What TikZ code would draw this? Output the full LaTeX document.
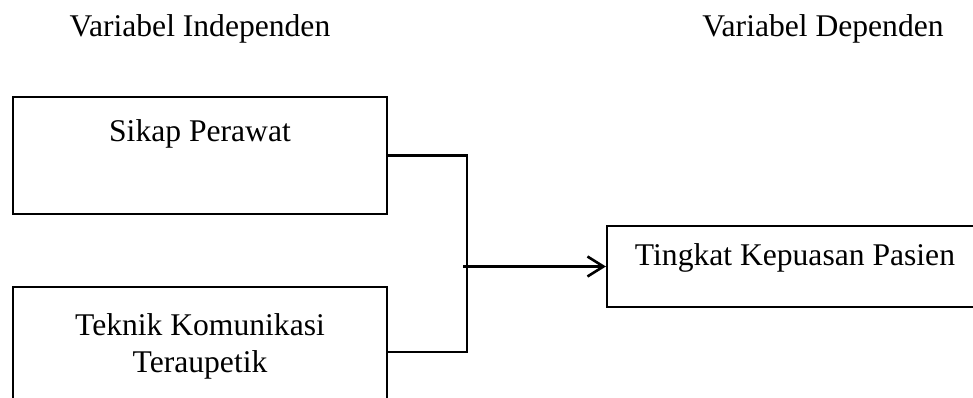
\documentclass[tikz,border=0pt]{standalone}
\usepackage{fontspec}
\setmainfont{Liberation Serif}
\usetikzlibrary{arrows.meta}
\begin{document}
\begin{tikzpicture}[x=1pt,y=-1pt,
  box/.style={draw, line width=2.2pt, rectangle, inner sep=0pt},
  lbl/.style={anchor=base, inner sep=0pt, font=\fontsize{31.6}{38}\selectfont},
  conn/.style={line width=2.2pt},
  arr/.style={line width=2.6pt, -{Straight Barb[length=16pt,width=20pt,line width=2.6pt]}}]
\useasboundingbox (0,0) rectangle (973,398);
\clip (0,0) rectangle (973,398);
\node[lbl] (hi) at (200,37) {Variabel Independen};
\node[lbl] (hd) at (823,37) {Variabel Dependen};
\node[box, minimum width=374pt, minimum height=117pt] (b1) at (200,155.5) {};
\node[box, minimum width=374pt, minimum height=130pt] (b2) at (200,352) {};
\node[box, minimum width=380pt, minimum height=81pt] (b3) at (797,266.5) {};
\node[lbl] (t1) at (200,142) {Sikap Perawat};
\node[lbl] (t2) at (200,335) {Teknik Komunikasi};
\node[lbl] (t3) at (200,372) {Teraupetik};
\node[lbl] (t4) at (795,265) {Tingkat Kepuasan Pasien};
\coordinate (j) at (467,266.5);
\coordinate (s) at (463,266.5);
\draw[conn] (b1.east) -| (j) |- (b2.east);
\draw[arr] (s) -- (b3.west);
\end{tikzpicture}
\end{document}
